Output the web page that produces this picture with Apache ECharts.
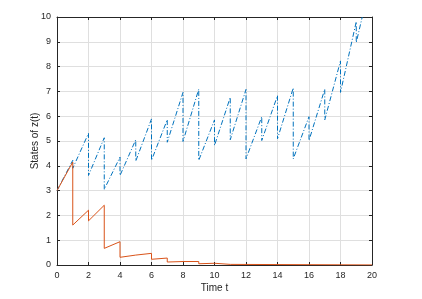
<!DOCTYPE html>
<html><head><meta charset="utf-8">
<script src="https://cdn.jsdelivr.net/npm/echarts@6/dist/echarts.min.js"></script>
<style>html,body{margin:0;padding:0;background:#fff}#c{width:422px;height:299px}</style>
</head><body><div id="c"></div>
<script>
const startValue = 3.0;
const jumpTimes   = [1, 2, 3, 4, 5, 6, 7, 8, 9, 10, 11, 12, 13, 14, 15, 16, 17, 18, 19];
const blueBefore  = [4.22, 5.31, 5.13, 4.35, 5.05, 5.89, 5.86, 6.96, 7.09, 5.85, 6.76, 7.08, 5.98, 6.83, 7.14, 5.98, 7.09, 8.23, 9.81];
const blueAfter   = [3.90, 3.61, 3.05, 3.61, 4.19, 4.22, 4.95, 4.98, 4.22, 4.82, 5.05, 4.28, 5.02, 5.09, 4.28, 5.02, 5.85, 6.96, 8.97];
const blueEnd     = [19.38, 10.0];
const orangeTimes  = [1, 2, 3, 4, 5, 6, 7, 8, 9, 10, 11];
const orangeBefore = [4.15, 2.21, 2.41, 0.94, 0.40, 0.47, 0.28, 0.14, 0.14, 0.07, 0.025];
const orangeAfter  = [1.61, 1.78, 0.67, 0.31, 0.36, 0.23, 0.12, 0.12, 0.05, 0.02, 0.01];
const orangeEnd    = [20, 0.003];
const xTicks = [0, 2, 4, 6, 8, 10, 12, 14, 16, 18, 20];
const yTicks = [0, 1, 2, 3, 4, 5, 6, 7, 8, 9, 10];

function build(times, before, after, end) {
  const pts = [[0, startValue]];
  times.forEach((t, i) => { pts.push([t, before[i]]); pts.push([t, after[i]]); });
  pts.push(end);
  return pts;
}
const blueData = build(jumpTimes, blueBefore, blueAfter, blueEnd);
const orangeData = build(orangeTimes, orangeBefore, orangeAfter, orangeEnd);

const font = 'Liberation Sans, Arial, sans-serif';
const axisCol = '#262626';
const chart = echarts.init(document.getElementById('c'), null, {renderer: 'canvas'});
const baseX = {
  type: 'value', min: xTicks[0], max: xTicks[xTicks.length - 1], interval: 2,
  axisLine: {show: true, onZero: false, lineStyle: {color: axisCol, width: 1}},
  axisTick: {show: true, inside: true, length: 3, lineStyle: {color: axisCol}},
};
const baseY = {
  type: 'value', min: yTicks[0], max: yTicks[yTicks.length - 1], interval: 1,
  axisLine: {show: true, onZero: false, lineStyle: {color: axisCol, width: 1}},
  axisTick: {show: true, inside: true, length: 3, lineStyle: {color: axisCol}},
};
chart.setOption({
  animation: false,
  grid: {left: 57, right: 50, top: 17, bottom: 34, containLabel: false},
  xAxis: [
    Object.assign({}, baseX, {
      position: 'bottom',
      name: 'Time t', nameLocation: 'middle', nameGap: 18, nameMoveOverlap: false,
      nameTextStyle: {fontFamily: font, fontSize: 10, color: axisCol},
      axisLabel: {fontFamily: font, fontSize: 9, color: axisCol, margin: 6},
      splitLine: {show: true, lineStyle: {color: '#dfdfdf', width: 1}}
    }),
    Object.assign({}, baseX, {position: 'top', axisLabel: {show: false}, splitLine: {show: false}})
  ],
  yAxis: [
    Object.assign({}, baseY, {
      position: 'left',
      name: 'States of z(t)', nameLocation: 'middle', nameGap: 17, nameMoveOverlap: false,
      nameTextStyle: {fontFamily: font, fontSize: 10, color: axisCol},
      axisLabel: {fontFamily: font, fontSize: 9, color: axisCol, margin: 6},
      splitLine: {show: true, lineStyle: {color: '#dfdfdf', width: 1}}
    }),
    Object.assign({}, baseY, {position: 'right', axisLabel: {show: false}, splitLine: {show: false}})
  ],
  series: [
    {type: 'line', data: blueData, showSymbol: false, clip: true,
     lineStyle: {color: '#0072BD', width: 1, type: [5, 2, 1, 2]}, z: 3},
    {type: 'line', data: orangeData, showSymbol: false, clip: true,
     lineStyle: {color: '#D95319', width: 1}, z: 4}
  ]
});
</script></body></html>
